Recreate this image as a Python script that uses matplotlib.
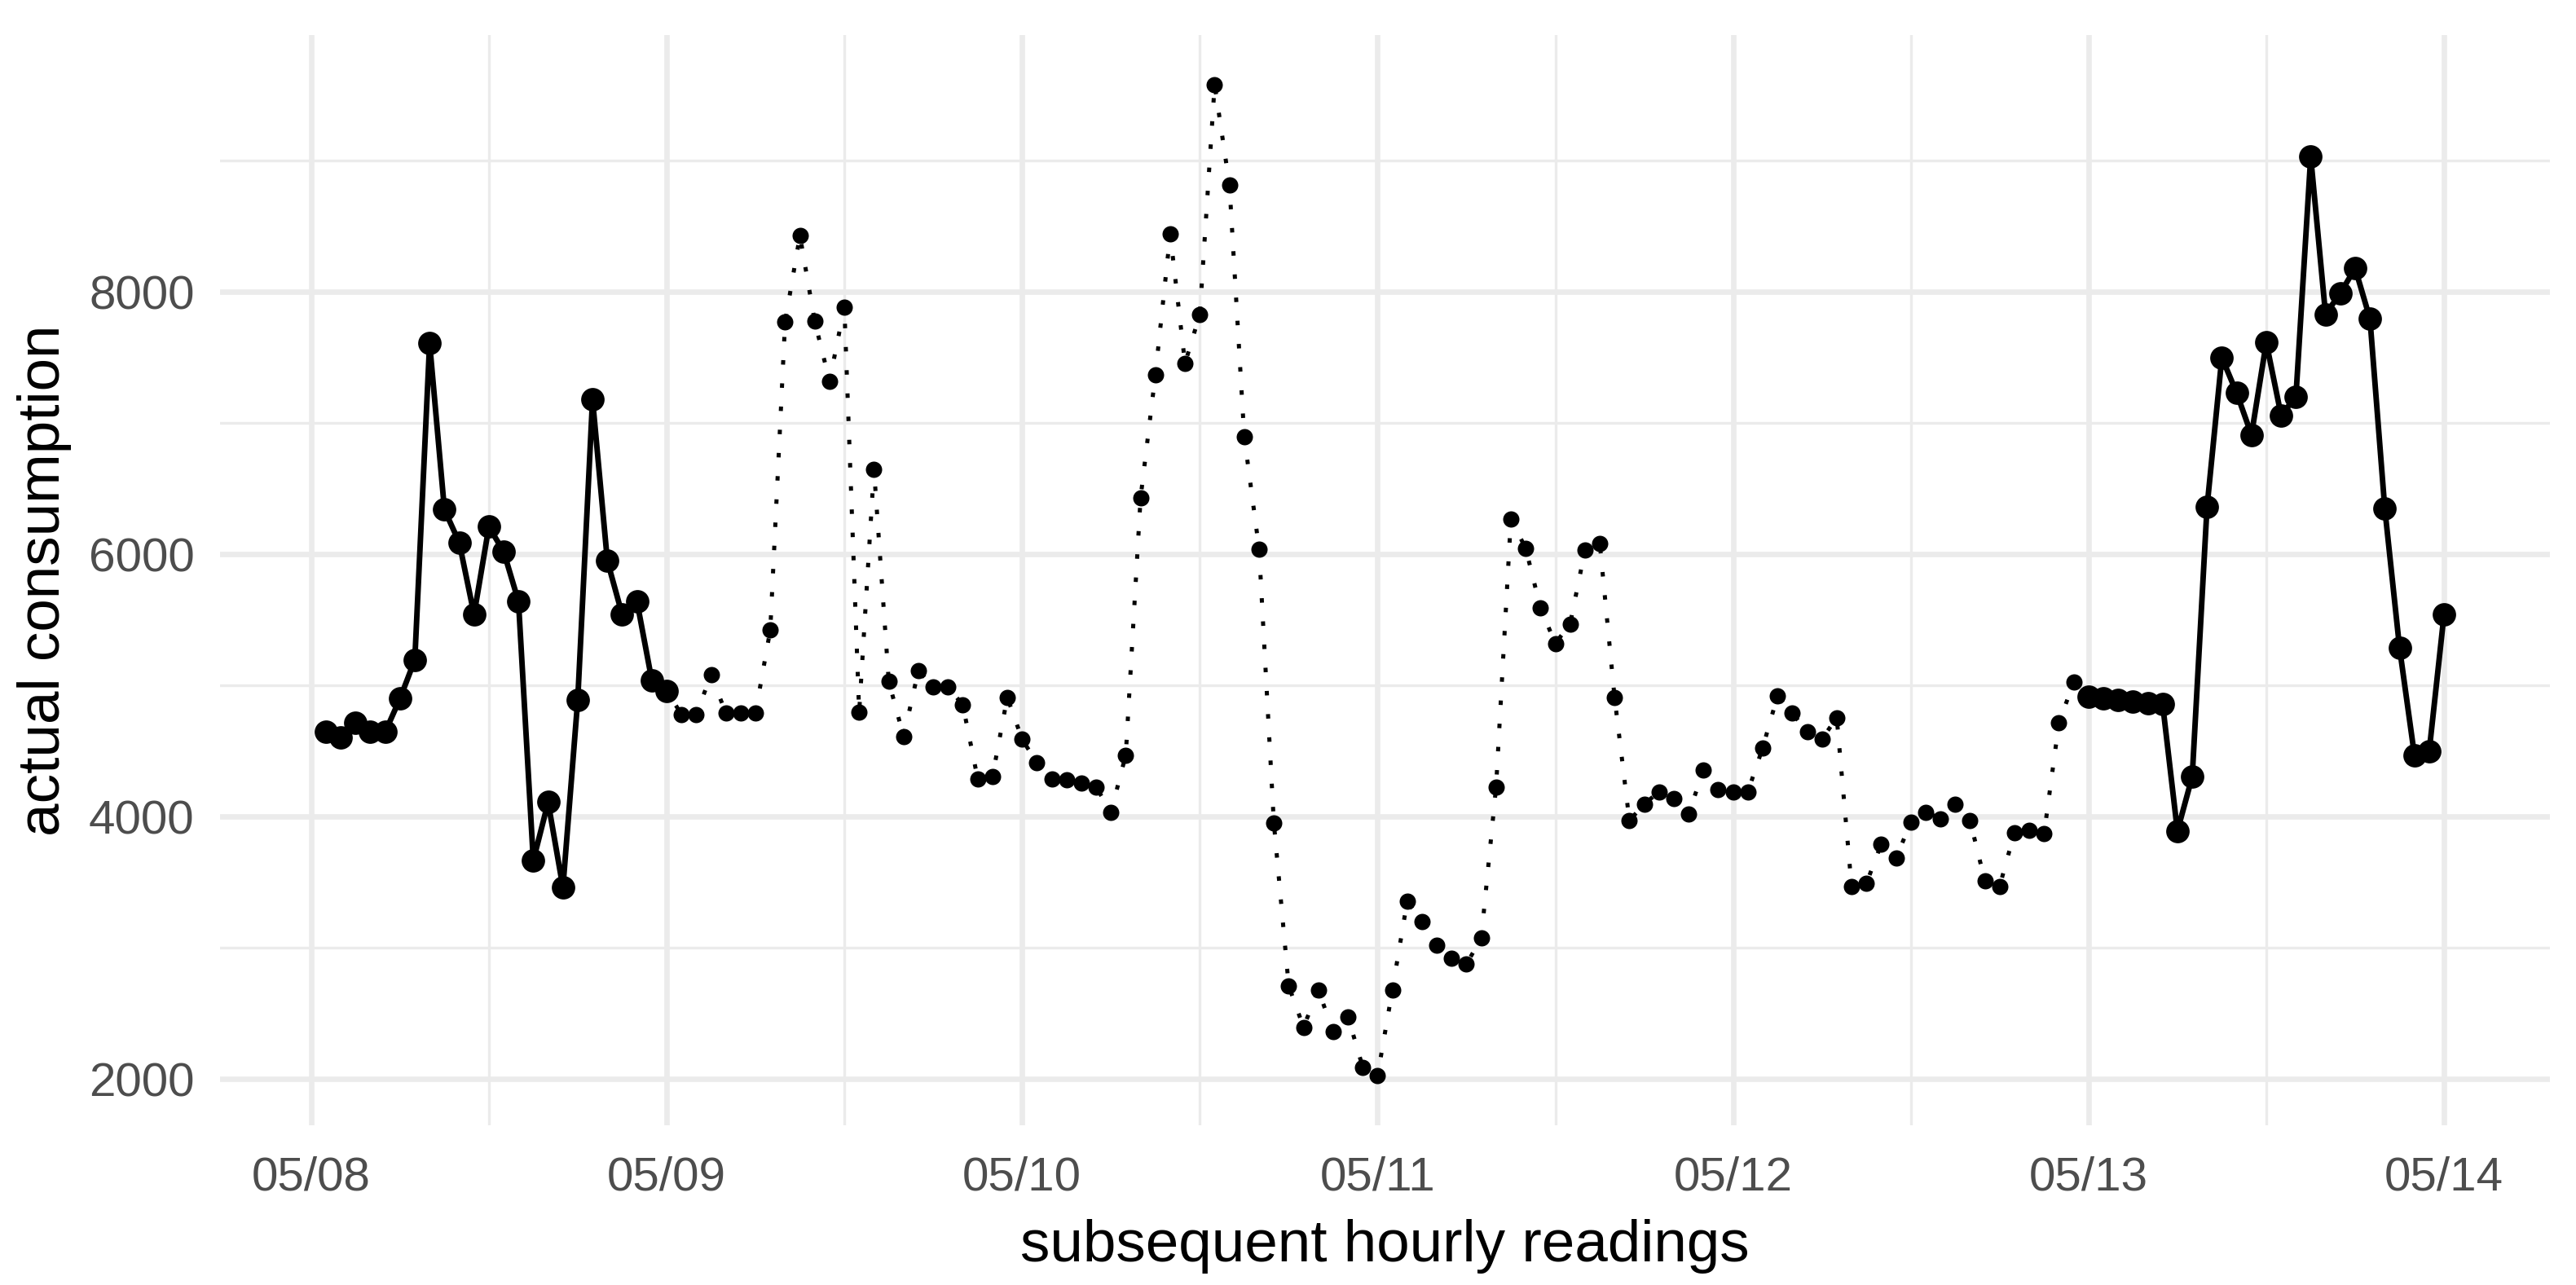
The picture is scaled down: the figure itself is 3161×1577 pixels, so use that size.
import matplotlib
matplotlib.use("Agg")
import matplotlib.pyplot as plt
import matplotlib.dates as mdates
import pandas as pd
import numpy as np

# ---- data (hourly readings, 05/08 01:00 .. 05/14 00:00) ----
start_time = "2023-05-08 01:00"
day1 = [4650, 4605, 4715, 4645, 4645, 4900, 5195, 7610, 6340, 6090, 5540, 6210,
        6020, 5640, 3665, 4110, 3460, 4890, 7180, 5950, 5540, 5640, 5040, 4960]
day2 = [4780, 4780, 5080, 4790, 4790, 4790, 5425, 7770, 8430, 7775, 7320, 7885,
        4795, 6650, 5030, 4610, 5115, 4990, 4990, 4850, 4290, 4305, 4910, 4590]
day3 = [4410, 4290, 4280, 4255, 4225, 4035, 4470, 6430, 7370, 8440, 7455, 7830,
        9580, 8815, 6895, 6040, 3950, 2710, 2395, 2680, 2360, 2475, 2090, 2025]
day4 = [2680, 3355, 3200, 3020, 2920, 2875, 3075, 4225, 6270, 6045, 5590, 5320,
        5470, 6030, 6085, 4910, 3970, 4095, 4190, 4135, 4020, 4355, 4205, 4190]
day5 = [4190, 4525, 4920, 4790, 4645, 4590, 4755, 3470, 3490, 3790, 3685, 3955,
        4035, 3985, 4095, 3970, 3510, 3470, 3880, 3895, 3870, 4715, 5025, 4915]
day6 = [4900, 4890, 4880, 4865, 4860, 3890, 4305, 6360, 7500, 7230, 6910, 7615,
        7060, 7200, 9030, 7830, 7990, 8180, 7795, 6350, 5285, 4470, 4500, 5540]
consumption = day1 + day2 + day3 + day4 + day5 + day6
n_first = 24   # readings in the first highlighted window
n_last = 25    # readings in the last highlighted window

x_label = "subsequent hourly readings"
y_label = "actual consumption"

times = pd.date_range(start_time, periods=len(consumption), freq="h")
vals = np.array(consumption, dtype=float)

plt.rcParams["font.family"] = ["Liberation Sans", "DejaVu Sans"]

W, H, DPI = 3161, 1577, 300
fig = plt.figure(figsize=(W / DPI, H / DPI), dpi=DPI)
fig.patch.set_facecolor("white")
ax = fig.add_axes([270 / W, 1 - 1381 / H, (3129 - 270) / W, (1381 - 43) / H])

grid_col = "#EBEBEB"
# full series: dotted line, small points
ax.plot(times, vals, color="black", lw=1.2, linestyle=(0, (1.1, 4.6)),
        zorder=3)
mid = slice(n_first, len(vals) - n_last)
ax.plot(times[mid], vals[mid], linestyle="none", marker="o", ms=4.8,
        mew=0, color="black", zorder=4)
# highlighted windows: solid line, big points
for sl in (slice(0, n_first), slice(len(vals) - n_last, len(vals))):
    ax.plot(times[sl], vals[sl], color="black", lw=1.65, marker="o", ms=6.9,
            mew=0, solid_joinstyle="round", zorder=5)

ax.margins(x=0.05, y=0.05)
ax.xaxis.set_major_locator(mdates.DayLocator())
ax.xaxis.set_major_formatter(mdates.DateFormatter("%m/%d"))
ax.xaxis.set_minor_locator(mdates.HourLocator(byhour=[12]))
ax.yaxis.set_major_locator(matplotlib.ticker.MultipleLocator(2000))
ax.yaxis.set_minor_locator(matplotlib.ticker.MultipleLocator(1000))

ax.grid(which="major", color=grid_col, lw=1.6, zorder=0)
ax.grid(which="minor", color=grid_col, lw=0.8, zorder=0)
ax.set_axisbelow(True)
for s in ax.spines.values():
    s.set_visible(False)
ax.tick_params(which="both", length=0)
ax.tick_params(axis="x", which="major", labelsize=14, labelcolor="#4D4D4D", pad=9)
ax.tick_params(axis="y", which="major", labelsize=14, labelcolor="#4D4D4D", pad=7.5)

ax.set_xlabel(x_label, fontsize=17.5, color="black", labelpad=5.6)
ax.set_ylabel(y_label, fontsize=17.5, color="black", labelpad=5)

fig.savefig("out.png", dpi=DPI, facecolor="white")
